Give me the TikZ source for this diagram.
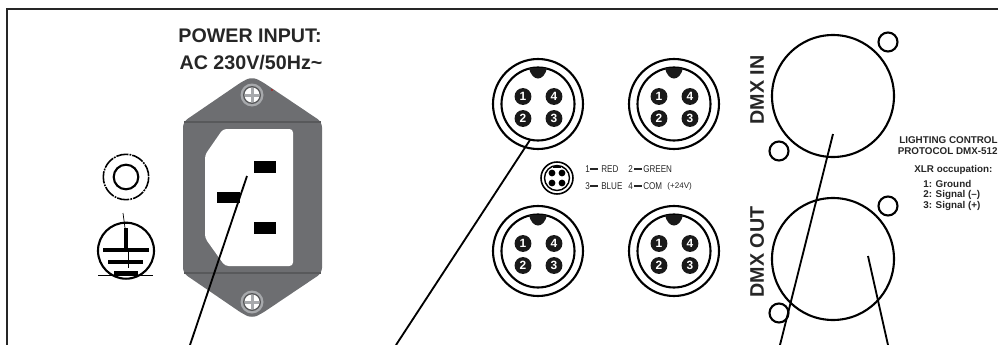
\documentclass[tikz,border=0pt]{standalone}
\usepackage{fontspec}
\setmainfont{Liberation Sans}
\newfontfamily\narrowfont[FakeStretch=0.82]{Liberation Sans}
\definecolor{plategray}{HTML}{6D6E71}
\definecolor{platedark}{HTML}{58595B}
\definecolor{screwgray}{HTML}{A7A9AC}
\tikzset{
    frameline/.style={line width=1.6pt, draw=black!85},
    leader/.style={line width=1.05pt, draw=black},
    ringline/.style={line width=1.2pt, draw=black},
    titletext/.style={inner sep=0pt, font=\fontsize{11.2}{13}\selectfont\bfseries, text=black!85},
    smallbold/.style={inner sep=0pt, font=\fontsize{5.6}{6.5}\selectfont\bfseries, text=black!85},
    wirenote/.style={inner sep=0pt, anchor=west, font=\narrowfont\fontsize{5.6}{6.5}\selectfont, text=black!85},
    pinlabel/.style={circle, fill=black!90, minimum size=9.6pt, inner sep=0pt, text=white, font=\fontsize{6.8}{8}\selectfont\bfseries},
    wirebar/.style={line width=1pt, draw=black!85}
}
\begin{document}
\begin{tikzpicture}[x=0.02cm, y=-0.02cm]

    % Fix the page to the size of the reference
    \useasboundingbox (0,0) rectangle (998,345);

    % Outer panel edge, open at the bottom and on the right
    \draw[frameline] (7,345) -- (7,9) -- (998,9);

    % Titles above the mains socket
    \node[titletext] (powertitle) at (250,36) {POWER INPUT:};
    \node[titletext] (powerrating) at (251,63) {AC 230V/50Hz\char`~};

    % Gray plate of the mains socket
    \fill[plategray, rounded corners=3pt] (183,122) -- (243,81) -- (252,77) -- (261,81) -- (322,122)
        -- (322,273) -- (261,314) -- (252,318) -- (243,314) -- (183,273) -- cycle;
    \draw[platedark, line width=0.8pt] (184,122) -- (321,122);
    \draw[platedark, line width=0.8pt] (184,273) -- (321,273);

    % White opening with its two cut corners
    \fill[white, rounded corners=2pt] (205,155) -- (223,129) -- (293,129) -- (293,266) -- (225,266)
        -- (205,238) -- cycle;

    % The three contacts
    \fill[black] (254,161) rectangle (276,173);
    \fill[black] (217,192) rectangle (240,203);
    \fill[black] (254,222) rectangle (276,234);

    % Screws of the plate
    \foreach \screwy in {95,302} {
        \fill[screwgray] (252,\screwy) circle (11.5);
        \fill[platedark] (252,\screwy) circle (9);
        \fill[white] (252,\screwy) circle (7.5);
        \fill[screwgray] (250.5,\screwy-7) rectangle (253.5,\screwy+7);
        \fill[screwgray] (245,\screwy-1.5) rectangle (259,\screwy+1.5);
    }
    \fill[red!80!black] (272,90) circle (0.8);

    % Fuse holder, left of the socket
    \draw[ringline] (126,177) circle (12.3);
    \draw[line width=0.9pt, dash pattern=on 7pt off 0.6pt on 1pt off 0.6pt] (126,177) circle (22.7);

    % Earth symbol
    \draw[ringline] (126,250.7) circle (28);
    \draw[line width=0.4pt] (123,213) -- (125,228);
    \draw[line width=2.6pt] (126,228) -- (126,250);
    \draw[line width=0.3pt] (128,250) -- (128,268);
    \draw[line width=2.8pt] (103,250) -- (149,250);
    \draw[line width=2.8pt] (108,262) -- (143,262);
    \draw[line width=2.8pt] (114,273) -- (138,273);
    \draw[line width=0.5pt] (98,275) -- (153,275);

    % The four round 4-pin sockets
    \foreach \name/\cx/\cy in {sockA/538/104, sockB/674/104, sockC/538/251, sockD/674/251} {
        \coordinate (\name) at (\cx,\cy);
        \draw[ringline] (\name) circle (45);
        \draw[ringline] (\name) circle (36.5);
        \fill[black!90] (\cx-9,\cy-36) .. controls (\cx-6,\cy-22) and (\cx+6,\cy-22) .. (\cx+9,\cy-36) -- cycle;
        \node[pinlabel] (\name-1) at (\cx-15,\cy-7.5) {1};
        \node[pinlabel] (\name-4) at (\cx+16,\cy-7.5) {4};
        \node[pinlabel] (\name-2) at (\cx-15,\cy+14.5) {2};
        \node[pinlabel] (\name-3) at (\cx+16,\cy+14.5) {3};
    }

    % Small key of the pins and its wire colours
    \coordinate (keyplug) at (557,178);
    \draw[line width=0.9pt] (keyplug) circle (16);
    \draw[line width=0.8pt] (keyplug) circle (12.5);
    \fill[black] (553,166) rectangle (561,168);
    \foreach \dx/\dy in {-5/-5, 5/-5, -5/5, 5/5} {
        \fill[black] (557+\dx,178+\dy) circle (3.4);
    }
    \node[wirenote] (num1) at (585,169) {1};
    \draw[wirebar] (590,169) -- (598,169);
    \node[wirenote] (red) at (601,169) {RED};
    \node[wirenote] (num2) at (628,169) {2};
    \draw[wirebar] (634,169) -- (642,169);
    \node[wirenote] (green) at (643,169) {GREEN};
    \node[wirenote] (num3) at (585,186) {3};
    \draw[wirebar] (590,186) -- (598,186);
    \node[wirenote] (blue) at (601,186) {BLUE};
    \node[wirenote] (num4) at (628,186) {4};
    \draw[wirebar] (634,186) -- (642,186);
    \node[wirenote] (com) at (643,186) {COM};
    \node[wirenote, font=\fontsize{4.6}{5.5}\selectfont] (volts) at (667,186) {(+24V)};

    % XLR sockets with their two fixing holes
    \coordinate (xlrin) at (833,96);
    \coordinate (xlrout) at (833,259);
    \draw[ringline] (xlrin) circle (61);
    \draw[ringline] (xlrout) circle (61);
    \draw[ringline] (888,42) circle (9.5);
    \draw[ringline] (779,151) circle (9.5);
    \draw[ringline] (888,206) circle (9.5);
    \draw[ringline] (779,313) circle (9.5);
    \node[titletext, rotate=90] (dmxin) at (757,90) {DMX IN};
    \node[titletext, rotate=90] (dmxout) at (757,252) {DMX OUT};

    % Notes on the right
    \node[smallbold, anchor=east] (protoA) at (998,140) {LIGHTING CONTROL};
    \node[smallbold, anchor=east] (protoB) at (998,151) {PROTOCOL DMX-512};
    \node[smallbold, anchor=west] (xlrnote) at (914,170) {XLR occupation:};
    \node[smallbold, anchor=west] (xlrA) at (923,184) {1: Ground};
    \node[smallbold, anchor=west] (xlrB) at (923,195) {2: Signal (--)};
    \node[smallbold, anchor=west] (xlrC) at (923,206) {3: Signal (+)};

    % Leader lines, running off the bottom edge
    \coordinate (leadA) at (247,176);
    \coordinate (leadAend) at (190,345);
    \coordinate (leadB) at (530,140);
    \coordinate (leadBend) at (396,345);
    \coordinate (leadC) at (833,134);
    \coordinate (leadCend) at (780,345);
    \coordinate (leadD) at (868,256);
    \coordinate (leadDend) at (888,345);
    \draw[leader] (leadA) -- (leadAend);
    \draw[leader] (leadB) -- (leadBend);
    \draw[leader] (leadC) -- (leadCend);
    \draw[leader] (leadD) -- (leadDend);

\end{tikzpicture}
\end{document}
